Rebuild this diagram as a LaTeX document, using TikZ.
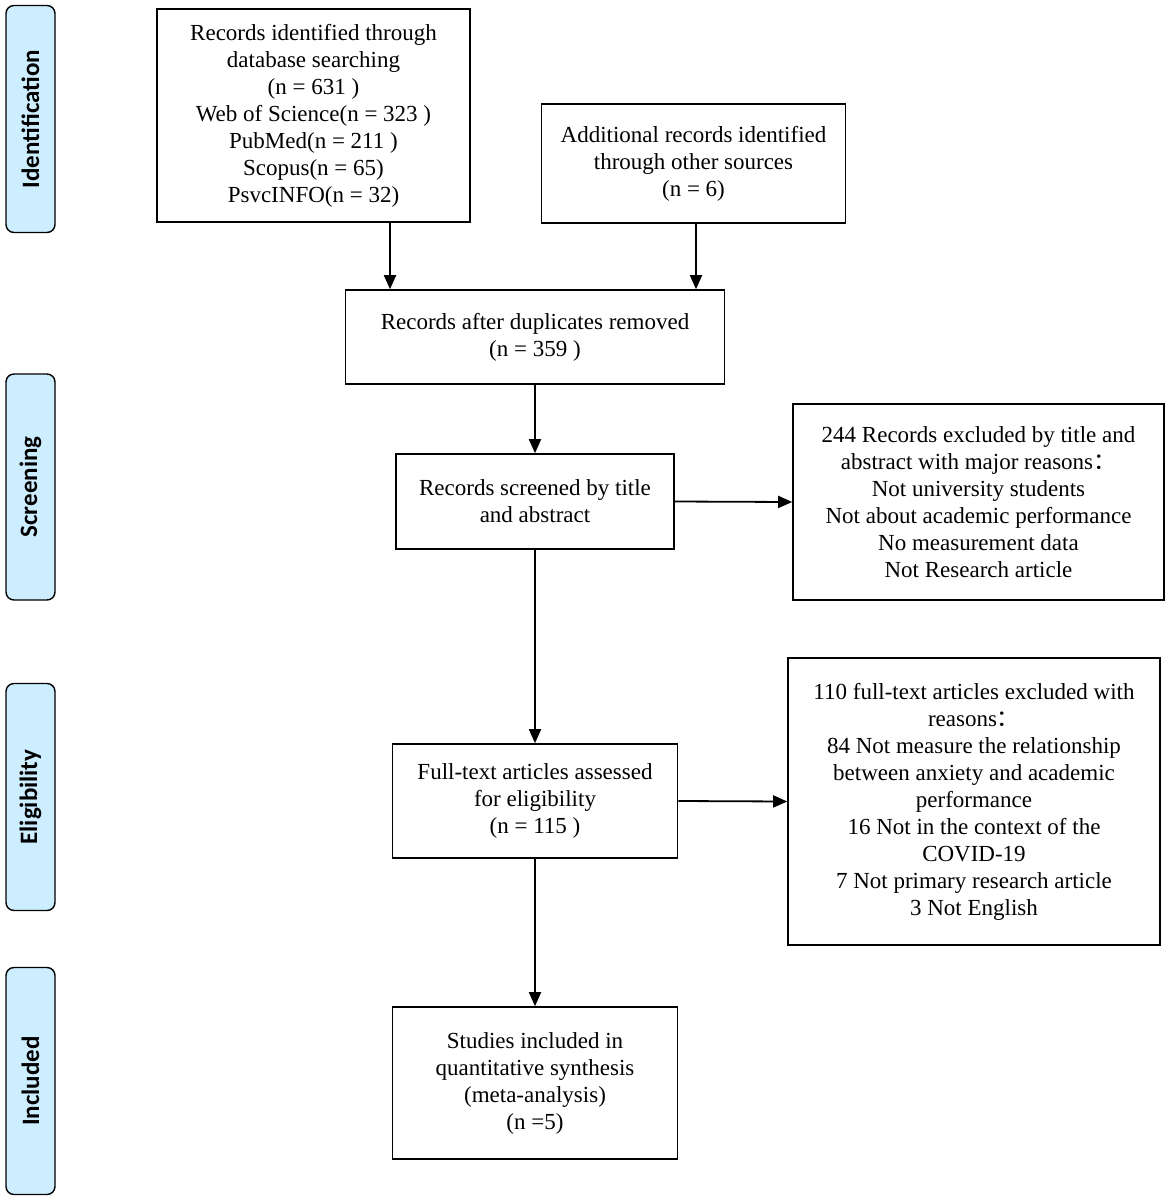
\documentclass[tikz,border=0pt]{standalone}
\usepackage{fontspec}
\setmainfont{Liberation Serif}
\newfontfamily\labfont{Carlito}
\newfontfamily\cjkfont{Noto Sans CJK SC}
\usetikzlibrary{arrows.meta}
\definecolor{labblue}{HTML}{CCEEFF}
\begin{document}
\begin{tikzpicture}[x=1pt,y=-1pt,
  box/.style={draw=black,line width=1.6pt,align=center,inner sep=0pt,
    font=\fontsize{23}{27}\selectfont},
  phase/.style={draw=black,line width=1.4pt,fill=labblue,rounded corners=8pt,
    rotate=90,inner sep=0pt,minimum height=49pt,
    font=\labfont\bfseries\fontsize{25}{28}\selectfont},
  arr/.style={line width=1.8pt,-{Triangle[length=14pt,width=12pt]}}]
\fill[white] (0,0) rectangle (1170,1200);
\useasboundingbox (0,0) rectangle (1170,1200);
% phase labels
\node[phase,minimum width=227pt] (pid) at (30.5,119) {Identification};
\node[phase,minimum width=226pt] (psc) at (30.5,487) {Screening};
\node[phase,minimum width=227pt] (pel) at (30.5,797) {Eligibility};
\node[phase,minimum width=227pt] (pin) at (30.5,1081) {Included};
% boxes
\node[box,minimum width=313pt,minimum height=213pt] (b1) at (313.5,115.5)
 {Records identified through\\database searching\\(n = 631 )\\Web of Science(n = 323 )\\PubMed(n = 211 )\\Scopus(n = 65)\\PsvcINFO(n = 32)};
\node[box,minimum width=304pt,minimum height=119pt] (b2) at (693.5,163.5)
 {Additional records identified\\through other sources\\(n = 6)};
\node[box,minimum width=379pt,minimum height=94pt] (b3) at (535,337)
 {Records after duplicates removed\\(n = 359 )};
\node[box,minimum width=278pt,minimum height=95pt] (b4) at (535,501.5)
 {Records screened by title\\and abstract};
\node[box,minimum width=371pt,minimum height=196pt] (b5) at (978.5,502)
 {244 Records excluded by title and\\abstract with major reasons{\cjkfont ：}\\Not university students\\Not about academic performance\\No measurement data\\Not Research article};
\node[box,minimum width=285pt,minimum height=114pt] (b6) at (535,801)
 {Full-text articles assessed\\for eligibility\\(n = 115 )};
\node[box,minimum width=372pt,minimum height=287pt] (b7) at (974,801.5)
 {110 full-text articles excluded with\\reasons{\cjkfont ：}\\84 Not measure the relationship\\between anxiety and academic\\performance\\16 Not in the context of the\\COVID-19\\7 Not primary research article\\3 Not English};
\node[box,minimum width=285pt,minimum height=152pt] (b8) at (535,1083)
 {Studies included in\\quantitative synthesis\\(meta-analysis)\\(n =5)};
% connectors
\coordinate (xa) at (390,0);
\coordinate (xb) at (696,0);
\draw[arr] (b1.south -| xa) -- (b3.north -| xa);
\draw[arr] (b2.south -| xb) -- (b3.north -| xb);
\draw[arr] (b3) -- (b4);
\draw[arr] (b4.east) -- (b5.west);
\draw[arr] (b4) -- (b6);
\draw[arr] (b6.east) -- (b7.west);
\draw[arr] (b6) -- (b8);
\end{tikzpicture}
\end{document}
